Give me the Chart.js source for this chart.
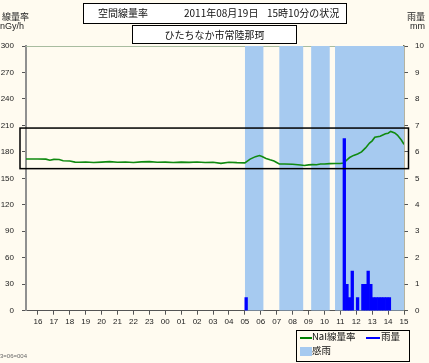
<!DOCTYPE html>
<html>
<head>
<meta charset="utf-8">
<script src="https://cdn.jsdelivr.net/npm/chart.js@4"></script>
<style>
  body { margin: 0; background: #FFFBF0; font-family: "Noto Sans CJK JP", "Liberation Sans", sans-serif; }
  #wrap { position: absolute; left: 0; top: 0; width: 429px; height: 363px; }
  .box { position: absolute; border: 1px solid #000; background: #fff; box-sizing: border-box; font-size: 10px; color: #111; line-height: 1; white-space: nowrap; }
  .lbl { position: absolute; font-size: 9px; color: #222; line-height: 1; white-space: nowrap; }
  #legend { position: absolute; left: 296px; top: 330px; width: 114px; height: 32px; border: 1px solid #000; box-sizing: border-box; font-size: 9.5px; color: #111; }
  #legend span { position: absolute; line-height: 1; white-space: nowrap; }
</style>
</head>
<body>
<div id="wrap">
  <canvas id="chart"></canvas>
  <div class="box" style="left:83px;top:3px;width:264px;height:21px;">
    <span style="position:absolute;left:14px;top:4px;">空間線量率</span>
    <span style="position:absolute;left:100px;top:4px;">2011年08月19日</span>
    <span style="position:absolute;left:183px;top:4px;">15時10分の状況</span>
  </div>
  <div class="box" style="left:132px;top:25px;width:165px;height:19px;text-align:center;padding-top:4px;">ひたちなか市常陸那珂</div>
  <div class="lbl" style="left:2px;top:12px;">線量率</div>
  <div class="lbl" style="left:0px;top:22px;font-family:'Liberation Sans';">nGy/h</div>
  <div class="lbl" style="left:407px;top:12px;">雨量</div>
  <div class="lbl" style="left:410px;top:22px;font-family:'Liberation Sans';">mm</div>
  <div class="lbl" style="left:0px;top:353px;font-size:6px;color:#666;font-family:'Liberation Sans';">3=06=004</div>
  <div id="legend">
    <span style="left:3px;top:6px;width:12px;height:2px;background:#008000;"></span>
    <span style="left:15px;top:1px;">NaI線量率</span>
    <span style="left:69px;top:6px;width:14px;height:2px;background:#0000FF;"></span>
    <span style="left:84px;top:1px;">雨量</span>
    <span style="left:3px;top:16px;width:12px;height:9px;background:#A6CAF0;"></span>
    <span style="left:15px;top:15px;">感雨</span>
  </div>
</div>
<script>
// NaI dose rate (nGy/h), previous day 15:15 -> 15:00
const naiTimes = ['15:15','15:30','16:00','16:30','16:45','17:00','17:20','17:35','18:00','18:20','18:35','19:00','19:30','20:00','20:30','21:00','21:30','22:00','22:30','23:00','23:30','00:00','00:30','01:00','01:30','02:00','02:30','03:00','03:30','04:00','04:30','05:00','05:20','05:40','05:55','06:05','06:20','06:35','06:50','07:00','07:10','07:30','08:00','08:30','08:45','09:00','09:15','09:30','09:45','10:00','10:20','10:40','11:00','11:12','11:25','11:35','11:50','12:05','12:20','12:35','12:50','13:00','13:10','13:30','13:50','14:00','14:10','14:25','14:35','14:50','15:00'];
const naiValues = [172.0,172.0,172.0,171.8,170.6,171.5,171.3,170.0,169.6,168.4,168.3,168.5,168.0,168.4,168.9,168.2,168.5,168.0,168.7,168.9,168.2,168.4,167.9,168.4,168.1,168.5,168.0,168.3,167.0,168.3,167.8,167.6,171.8,174.6,175.8,174.8,172.6,171.0,169.6,168.0,166.3,166.2,166.0,165.2,164.6,165.3,165.6,165.4,166.2,166.3,166.7,166.8,166.9,167.4,171.0,173.6,176.0,177.6,180.0,184.5,190.0,192.5,196.5,197.8,200.5,201.2,203.2,201.5,199.0,193.5,188.5];

// rainfall per 10 minutes (mm), start of each slot
const rainTimes = ['05:00','11:10','11:20','11:30','11:40','12:00','12:20','12:30','12:40','12:50','13:00','13:10','13:20','13:30','13:40','13:50','14:00'];
const rainValues = [0.5,6.5,1.0,0.5,1.5,0.5,1.0,1.0,1.5,1.0,0.5,0.5,0.5,0.5,0.5,0.5,0.5];

// rain sensing periods
const senseFrom = ['05:00','07:10','09:10','10:40'];
const senseTo = ['06:10','08:40','10:20','15:00'];

const hourTicks = [16,17,18,19,20,21,22,23,24,25,26,27,28,29,30,31,32,33,34,35,36,37,38,39];
const doseTicks = [0,30,60,90,120,150,180,210,240,270,300];
const rainTicks = [0,1,2,3,4,5,6,7,8,9,10];

// highlight box (nGy/h)
const boxLow = 161;
const boxHigh = 207;

function toHour(t) {
    const [hh, mm] = t.split(':').map(Number);
    let h = hh + mm / 60;
    if (h < 15.2) h += 24;
    return h;
}

const naiData = naiTimes.map((t, i) => ({ x: toHour(t), y: naiValues[i] }));
const rainData = rainTimes.map((t, i) => ({ x: toHour(t) + 5 / 60, y: rainValues[i] }));
const senseData = [];
senseFrom.forEach((t, i) => {
    const a = toHour(t), b = toHour(senseTo[i]);
    senseData.push({ x: a, y: 0 }, { x: a, y: 10 }, { x: b, y: 10 }, { x: b, y: 0 });
});

const frameBox = {
    id: 'frameBox',
    beforeDatasetsDraw(chart) {
        const { ctx, chartArea } = chart;
        ctx.save();
        ctx.strokeStyle = '#A8BCA0';
        ctx.lineWidth = 1;
        ctx.beginPath();
        ctx.moveTo(chartArea.left, chartArea.top + 0.5);
        ctx.lineTo(chartArea.right, chartArea.top + 0.5);
        ctx.stroke();
        ctx.restore();
    },
    afterDraw(chart) {
        const { ctx, chartArea, scales } = chart;
        const top = scales.y.getPixelForValue(boxHigh);
        const bottom = scales.y.getPixelForValue(boxLow);
        ctx.save();
        ctx.strokeStyle = '#000';
        ctx.lineWidth = 1.5;
        ctx.strokeRect(chartArea.left - 6, top, chartArea.right - chartArea.left + 10.5, bottom - top);
        ctx.restore();
    }
};

const tickFont = { family: 'Liberation Sans', size: 8 };

new Chart(document.getElementById('chart'), {
    data: {
        datasets: [
            {
                type: 'bar',
                label: '雨量',
                data: rainData,
                yAxisID: 'y2',
                backgroundColor: '#0000FF',
                borderWidth: 0,
                barPercentage: 1,
                categoryPercentage: 1,
                order: 1
            },
            {
                type: 'line',
                label: 'NaI線量率',
                data: naiData,
                yAxisID: 'y',
                borderColor: '#108A10',
                borderWidth: 1.6,
                pointRadius: 0,
                tension: 0,
                order: 2
            },
            {
                type: 'line',
                label: '感雨',
                data: senseData,
                yAxisID: 'y2',
                backgroundColor: '#A6CAF0',
                borderWidth: 0,
                pointRadius: 0,
                fill: 'origin',
                order: 3
            }
        ]
    },
    options: {
        responsive: true,
        maintainAspectRatio: false,
        animation: false,
        layout: { autoPadding: false, padding: { top: 46, left: 0, right: 0, bottom: 0 } },
        plugins: {
            legend: { display: false },
            tooltip: { enabled: false }
        },
        scales: {
            x: {
                type: 'linear',
                offset: false,
                min: 15.25,
                max: 39,
                afterFit: s => { s.height = 52.3; s.paddingLeft = 0; s.paddingRight = 0; },
                afterBuildTicks: s => { s.ticks = hourTicks.map(v => ({ value: v })); },
                ticks: {
                    font: tickFont,
                    color: '#222',
                    padding: 2,
                    maxRotation: 0,
                    autoSkip: false,
                    callback: v => String(v % 24).padStart(2, '0')
                },
                grid: { drawOnChartArea: false, tickLength: 4, color: '#555', offset: false },
                border: { color: '#555', width: 1 }
            },
            y: {
                position: 'left',
                min: 0,
                max: 300,
                afterFit: s => { s.width = 26; s.paddingTop = 0; s.paddingBottom = 0; },
                afterBuildTicks: s => { s.ticks = doseTicks.map(v => ({ value: v })); },
                ticks: { font: tickFont, color: '#222', padding: 8 },
                grid: { drawOnChartArea: false, tickLength: 4, color: '#555' },
                border: { color: '#909090', width: 2 }
            },
            y2: {
                position: 'right',
                min: 0,
                max: 10,
                afterFit: s => { s.width = 25; s.paddingTop = 0; s.paddingBottom = 0; },
                afterBuildTicks: s => { s.ticks = rainTicks.map(v => ({ value: v })); },
                ticks: { font: tickFont, color: '#222', padding: 7 },
                grid: { drawOnChartArea: false, tickLength: 4, color: '#555' },
                border: { color: '#6A6A50', width: 1.5 }
            }
        }
    },
    plugins: [frameBox]
});
</script>
</body>
</html>
